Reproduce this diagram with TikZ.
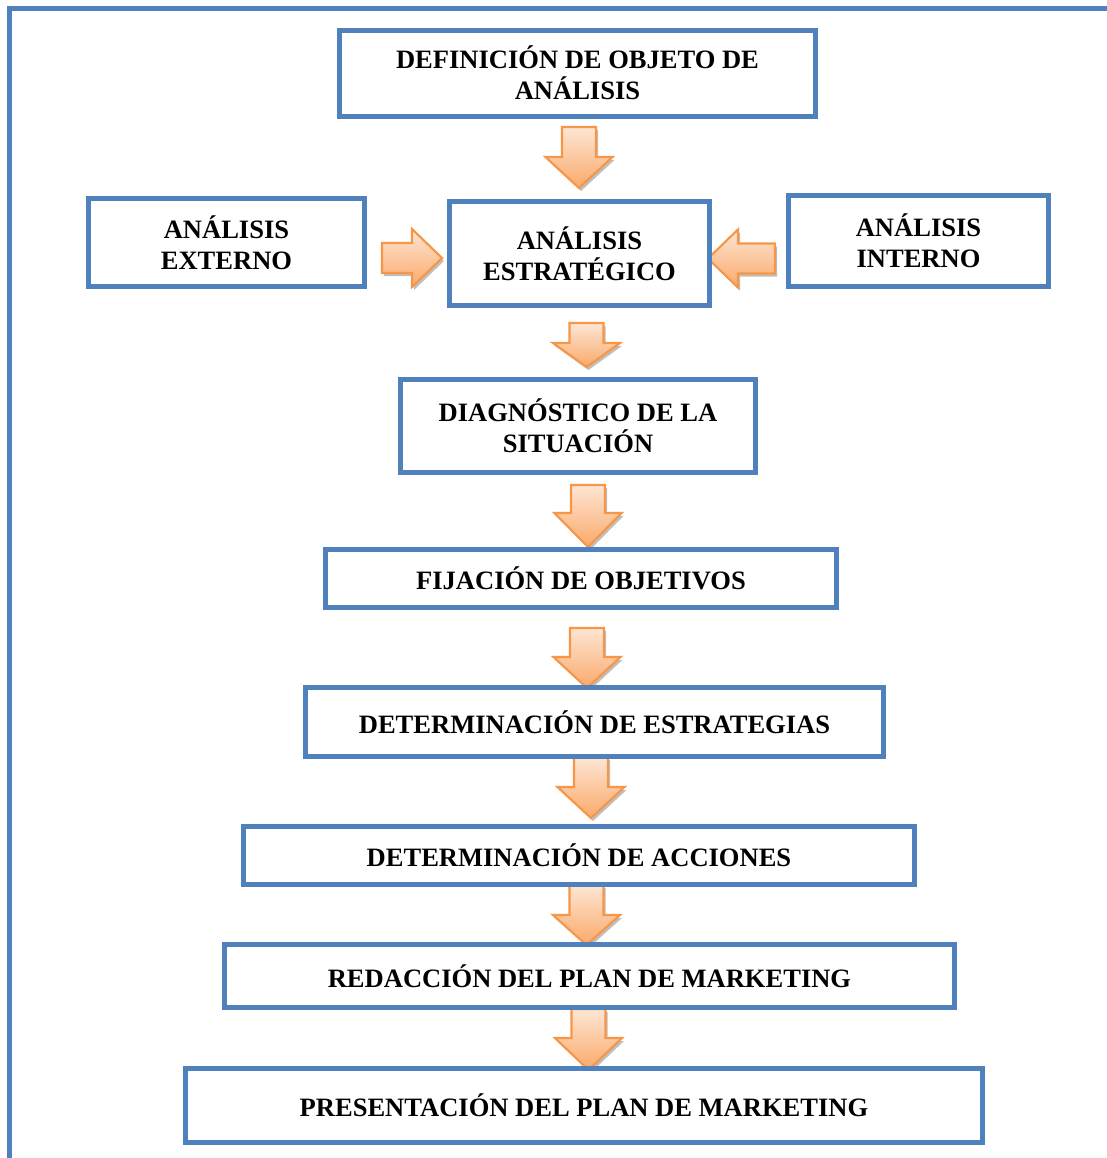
\documentclass[tikz,border=0pt]{standalone}
\usepackage{fontspec}
\setmainfont{Liberation Serif}
\definecolor{boxblue}{HTML}{4F81BD}
\definecolor{arrline}{HTML}{F79646}
\definecolor{arrtop}{HTML}{FDE6D4}
\definecolor{arrbot}{HTML}{FAA96A}
\tikzset{
  boxnode/.style={draw=boxblue, line width=3.75pt, fill=white, inner sep=0pt, outer sep=0pt,
    align=center, font=\fontsize{19.9}{23.25}\selectfont\bfseries},
  blockarrow/.style={draw=arrline, line width=1.6pt, line join=miter, top color=arrtop, bottom color=arrbot},
  arrowshadow/.style={fill=black!50, opacity=0.5},
  frameline/.style={draw=boxblue, line width=3.75pt}
}
\newcommand\dnarrow[4]{% cx, top, head top, tip
  \fill[arrowshadow] ({#1-17+2},{#2+3}) -- ({#1+17+2},{#2+3}) -- ({#1+17+2},{#3+3}) -- ({#1+33.5+2},{#3+3}) -- ({#1+2},{#4+3}) -- ({#1-33.5+2},{#3+3}) -- ({#1-17+2},{#3+3}) -- cycle;
  \path[blockarrow] ({#1-17},#2) -- ({#1+17},#2) -- ({#1+17},#3) -- ({#1+33.5},#3) -- (#1,#4) -- ({#1-33.5},#3) -- ({#1-17},#3) -- cycle;}
\newcommand\hzarrow[4]{% cy, start x, head start x, tip x
  \fill[arrowshadow] ({#2+2},{#1-15+3}) -- ({#3+2},{#1-15+3}) -- ({#3+2},{#1-29+3}) -- ({#4+2},{#1+3}) -- ({#3+2},{#1+29+3}) -- ({#3+2},{#1+15+3}) -- ({#2+2},{#1+15+3}) -- cycle;
  \path[blockarrow] (#2,{#1-15}) -- (#3,{#1-15}) -- (#3,{#1-29}) -- (#4,#1) -- (#3,{#1+29}) -- (#3,{#1+15}) -- (#2,{#1+15}) -- cycle;}
\begin{document}
\begin{tikzpicture}[x=0.75pt, y=-0.75pt]
\useasboundingbox (0,0) rectangle (1107,1158);
\clip (0,0) rectangle (1107,1158);
\fill[white] (0,0) rectangle (1107,1158);
\draw[frameline] (9.5,1175) -- (9.5,8.5) -- (1125,8.5);

% arrows
\dnarrow{579}{127}{157}{188}
\hzarrow{258}{382}{412}{442}
\hzarrow{258.5}{775}{738}{708}
\dnarrow{586.5}{323}{343}{367}
\dnarrow{588}{485}{513}{547}
\dnarrow{587}{628}{657}{688}
\dnarrow{591}{757}{787}{818}
\dnarrow{586.5}{885}{915}{945}
\dnarrow{588.5}{1009}{1038}{1070}

% boxes
\node[boxnode, minimum width=476*0.75pt, minimum height=86*0.75pt] (b1) at (577.5,73) {DEFINICIÓN DE OBJETO DE\\ANÁLISIS};
\node[boxnode, minimum width=276*0.75pt, minimum height=88*0.75pt] (b2) at (226.5,242.5) {ANÁLISIS\\EXTERNO};
\node[boxnode, minimum width=260*0.75pt, minimum height=104*0.75pt] (b3) at (579.5,253.5) {ANÁLISIS\\ESTRATÉGICO};
\node[boxnode, minimum width=260*0.75pt, minimum height=91*0.75pt] (b4) at (918.5,241) {ANÁLISIS\\INTERNO};
\node[boxnode, minimum width=355*0.75pt, minimum height=93*0.75pt] (b5) at (578,426) {DIAGNÓSTICO DE LA\\SITUACIÓN};
\node[boxnode, minimum width=511*0.75pt, minimum height=58*0.75pt] (b6) at (581,578.5) {FIJACIÓN DE OBJETIVOS};
\node[boxnode, minimum width=578*0.75pt, minimum height=69*0.75pt] (b7) at (594.5,722) {DETERMINACIÓN DE ESTRATEGIAS};
\node[boxnode, minimum width=671*0.75pt, minimum height=58*0.75pt] (b8) at (579,855.5) {DETERMINACIÓN DE ACCIONES};
\node[boxnode, minimum width=730*0.75pt, minimum height=63*0.75pt] (b9) at (589.5,976) {REDACCIÓN DEL PLAN DE MARKETING};
\node[boxnode, minimum width=797*0.75pt, minimum height=74*0.75pt] (b10) at (584,1105.5) {PRESENTACIÓN DEL PLAN DE MARKETING};
\end{tikzpicture}
\end{document}
